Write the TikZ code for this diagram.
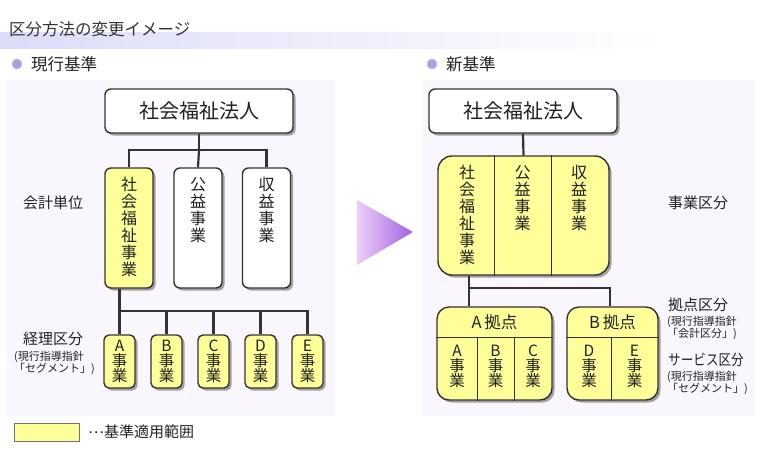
\documentclass[tikz,border=0pt]{standalone}
\usepackage{fontspec}
\setmainfont{Noto Sans CJK JP}
\usetikzlibrary{shadows}
\definecolor{yel}{HTML}{FFFF99}
\definecolor{panel}{HTML}{FAF6FD}
\definecolor{ln}{HTML}{333333}
\definecolor{band}{HTML}{DCDCF8}
\definecolor{bul}{HTML}{A58CE0}
\definecolor{arrL}{HTML}{EDCFF8}
\definecolor{arrR}{HTML}{A262E2}
\definecolor{txt}{HTML}{222222}
\begin{document}
\begin{tikzpicture}[x=1pt,y=-1pt,
  every node/.style={text=txt},
  box/.style={draw=ln, line width=1.4pt, rounded corners=6pt, fill=white, inner sep=0pt,
    drop shadow={shadow xshift=2.5pt, shadow yshift=-2.5pt, opacity=0.35, fill=black}},
  ybox/.style={box, fill=yel},
  conn/.style={draw=ln, line width=2.2pt},
  divl/.style={draw=ln, line width=1pt},
  vtext/.style={align=center, inner sep=0pt, font=\fontsize{16}{17}\selectfont},
  stext/.style={align=center, inner sep=0pt, font=\fontsize{15.5}{15}\selectfont},
  lab/.style={anchor=west, inner sep=0pt, font=\fontsize{15}{15}\selectfont},
  small/.style={anchor=north west, align=left, inner sep=0pt, font=\fontsize{11}{11}\selectfont},
  bullet/.style={circle, inner sep=0pt, minimum size=10pt, fill=bul!85!white, draw=bul!60!white, line width=0.8pt}
]
\useasboundingbox (0,0) rectangle (762,450);
\fill[white] (0,0) rectangle (762,450);
% title band
\shade[left color=band, right color=white, shading angle=90] (0,32) rectangle (660,48);
\node[anchor=west, inner sep=0pt, text=ln, font=\fontsize{16.5}{16.5}\selectfont] (title) at (9,29) {区分方法の変更イメージ};
% section headers
\node[bullet] (bl) at (17,64) {};
\node[anchor=west, inner sep=0pt, font=\fontsize{16.5}{16.5}\selectfont] (hl) at (31,64) {現行基準};
\node[bullet] (br) at (432,64) {};
\node[anchor=west, inner sep=0pt, font=\fontsize{16.5}{16.5}\selectfont] (hr) at (446,64) {新基準};
% panels
\fill[panel] (7,80) rectangle (335,416);
\fill[panel] (423,80) rectangle (755,416);
% arrow
\shade[left color=arrL, right color=arrR] (357,200) -- (413,232) -- (357,265) -- cycle;

% ===== left diagram =====
\node[box, minimum width=188pt, minimum height=44pt, font=\fontsize{20}{20}\selectfont] (top1) at (199,111) {社会福祉法人};
\node[ybox, minimum width=48pt, minimum height=120pt] (b1) at (129,228) {};
\node[box, minimum width=48pt, minimum height=120pt] (b2) at (198,228) {};
\node[box, minimum width=48pt, minimum height=120pt] (b3) at (266.5,228) {};
\node[vtext, anchor=north] (t1) at (b1.north |- 0,177) {社\\会\\福\\祉\\事\\業};
\node[vtext, anchor=north] (t2) at (b2.north |- 0,177) {公\\益\\事\\業};
\node[vtext, anchor=north] (t3) at (b3.north |- 0,177) {収\\益\\事\\業};
\coordinate (j1) at (199,150);
\draw[conn] (top1.south) -- (j1);
\draw[conn] (j1) -| (b1.north);
\draw[conn] (j1) -| (b3.north);
\draw[conn] (j1) -- (b2.north);

\foreach \n/\x/\l in {a1/119.5/A, a2/166.5/B, a3/213.5/C, a4/260.5/D, a5/307.5/E}{
  \node[ybox, rounded corners=5pt, minimum width=31pt, minimum height=53pt] (\n) at (\x,361.5) {};
  \node[stext] (\n t) at (\n) {\l\\事\\業};
}
\coordinate (j2) at (119.5,311);
\draw[conn] (b1.south -| j2) -- (a1.north);
\draw[conn] (j2) -| (a5.north);
\draw[conn] (a2.north |- j2) -- (a2.north);
\draw[conn] (a3.north |- j2) -- (a3.north);
\draw[conn] (a4.north |- j2) -- (a4.north);

\node[lab] (l1) at (23,203) {会計単位};
\node[lab] (l2) at (23,339) {経理区分};
\node[small] (l3) at (14,351) {(現行指導指針\\「セグメント」)};

% legend
\node[draw=black!55, line width=0.8pt, fill=yel, minimum width=65pt, minimum height=18pt, inner sep=0pt] (leg) at (46.5,432) {};
\node[lab] (legt) at (88,432) {\raisebox{4pt}{…}基準適用範囲};

% ===== right diagram =====
\node[box, minimum width=188pt, minimum height=44pt, font=\fontsize{20}{20}\selectfont] (top2) at (523,111) {社会福祉法人};
\node[ybox, rounded corners=14pt, minimum width=171pt, minimum height=119pt] (nb) at (523.5,215.5) {};
\draw[divl] (494,0 |- nb.north) -- (494,0 |- nb.south);
\draw[divl] (551,0 |- nb.north) -- (551,0 |- nb.south);
\node[vtext, anchor=north] (u1) at (467,165) {社\\会\\福\\祉\\事\\業};
\node[vtext, anchor=north] (u2) at (522.5,165) {公\\益\\事\\業};
\node[vtext, anchor=north] (u3) at (579,165) {収\\益\\事\\業};
\draw[conn] (top2.south) -- (nb.north);

\node[ybox, rounded corners=12pt, minimum width=115pt, minimum height=93pt] (pA) at (494.5,353.5) {};
\node[ybox, rounded corners=12pt, minimum width=91pt, minimum height=93pt] (pB) at (612.5,353.5) {};
\draw[divl] (pA.west |- 0,337) -- (pA.east |- 0,337);
\draw[divl] (477,337) -- (477,0 |- pA.south);
\draw[divl] (514,337) -- (514,0 |- pA.south);
\draw[divl] (pB.west |- 0,337) -- (pB.east |- 0,337);
\draw[divl] (611,337) -- (611,0 |- pB.south);
\node[inner sep=0pt, font=\fontsize{16.5}{16.5}\selectfont] (pAt) at (494.5,322) {A\,拠点};
\node[inner sep=0pt, font=\fontsize{16.5}{16.5}\selectfont] (pBt) at (612.5,322) {B\,拠点};
\foreach \n/\x/\l in {c1/457/A, c2/495.5/B, c3/533/C, c4/589/D, c5/634.5/E}{
  \node[stext] (\n) at (\x,366) {\l\\事\\業};
}
\coordinate (j3) at (469,288);
\coordinate (j4) at (610,288);
\draw[conn] (nb.south -| j3) -- (j3) -- (j4) -- (j4 |- pB.north);
\draw[conn] (j3) -- (j3 |- pA.north);

\node[lab] (r1) at (668,203) {事業区分};
\node[lab] (r2) at (668,305) {拠点区分};
\node[small] (r3) at (667,316) {(現行指導指針\\「会計区分」)};
\node[lab] (r4) at (668,360) {\scalebox{0.84}[1]{サービス区分}};
\node[small] (r5) at (667,371) {(現行指導指針\\「セグメント」)};
\end{tikzpicture}
\end{document}
